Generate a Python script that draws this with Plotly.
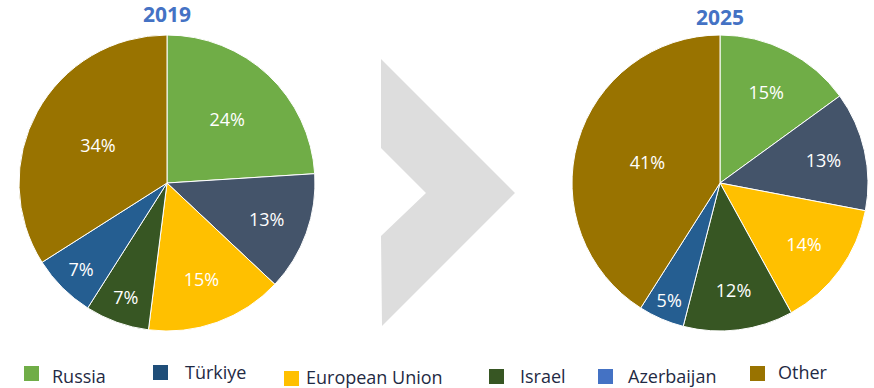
import plotly.graph_objects as go

W, H = 874, 388

# Market shares by supplier
categories = ["Russia", "Türkiye", "European Union", "Israel", "Azerbaijan", "Other"]
share_2019 = [24, 13, 15, 7, 7, 34]
share_2025 = [15, 13, 14, 12, 5, 41]
years = ["2019", "2025"]

slice_colors = ["#70AD47", "#44546A", "#FFC000", "#375623", "#255E91", "#997300"]
legend_colors = ["#70AD47", "#1F4E79", "#FFC000", "#375623", "#4472C4", "#997300"]


def px_x(x):
    return x / W


def px_y(y):
    return 1 - y / H


fig = go.Figure()

pie_boxes = [(19, 315, 35, 331), (572, 868, 35, 331)]
for year, vals, (x0, x1, y0, y1) in zip(years, [share_2019, share_2025], pie_boxes):
    fig.add_trace(go.Pie(
        labels=categories,
        values=vals,
        sort=False,
        direction="clockwise",
        rotation=0,
        marker=dict(colors=slice_colors, line=dict(color="white", width=1)),
        texttemplate="%{value}%",
        textposition="inside",
        insidetextorientation="horizontal",
        textfont=dict(color="white", size=18, family="Open Sans"),
        hoverinfo="label+value",
        showlegend=False,
        domain=dict(x=[px_x(x0), px_x(x1)], y=[px_y(y1), px_y(y0)]),
        name=year,
    ))

# Year headings
for year, cx, cy in [("2019", 167, 14), ("2025", 720, 17)]:
    fig.add_annotation(x=px_x(cx), y=px_y(cy), xref="paper", yref="paper",
                       text=f"<b>{year}</b>", showarrow=False,
                       font=dict(size=21, color="#4472C4", family="Open Sans"),
                       xanchor="center", yanchor="middle")

# Chevron between the two pies
pts = [(381, 59), (515, 193), (382, 326), (381, 236), (426, 193), (381, 148)]
path = "M " + " L ".join(f"{px_x(x):.5f},{px_y(y):.5f}" for x, y in pts) + " Z"
fig.add_shape(type="path", path=path, xref="paper", yref="paper",
              fillcolor="#DDDDDD", line=dict(width=0), layer="below")

# Hand-placed legend row
legend_pos = [  # (square left, square top, text left, text center y)
    (24, 366, 50, 376),
    (153, 365, 183, 372),
    (284, 371, 304, 377),
    (489, 369, 518, 376),
    (598, 369, 626, 376),
    (750, 366, 776, 372),
]
for name, col, (sx, sy, tx, ty) in zip(categories, legend_colors, legend_pos):
    fig.add_shape(type="rect", xref="paper", yref="paper",
                  x0=px_x(sx), x1=px_x(sx + 15), y0=px_y(sy + 15), y1=px_y(sy),
                  fillcolor=col, line=dict(width=0))
    fig.add_annotation(x=px_x(tx), y=px_y(ty), xref="paper", yref="paper",
                       text=name, showarrow=False, xanchor="left", yanchor="middle",
                       font=dict(size=18, color="#1F2A44", family="Open Sans"))

fig.update_layout(
    width=W, height=H,
    margin=dict(l=0, r=0, t=0, b=0),
    paper_bgcolor="white",
    plot_bgcolor="white",
)

fig.write_html("out.html")
